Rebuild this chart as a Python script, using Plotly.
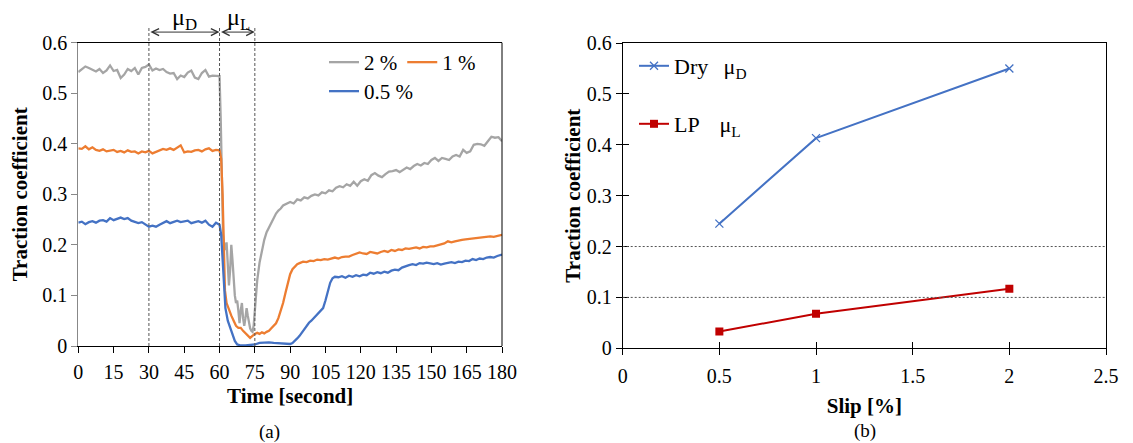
import plotly.graph_objects as go

# ---------------- data: (a) traction coefficient vs time ----------------
t_2 = [0, 1.5, 3, 4.5, 6, 7.5, 9, 10.5, 12, 13.5, 15, 16.5, 18, 19.5, 21, 22.5, 24, 25.5, 27, 28.5,
       30, 31.5, 33, 34.5, 36, 37.5, 39, 40.5, 42, 43.5, 45, 46.5, 48, 49.5, 51, 52.5, 54, 55.5, 57, 58.5,
       60, 60.5, 61, 61.5, 62, 62.5, 63, 63.5, 64, 64.5, 65, 65.5, 66, 66.5, 67, 67.5, 68, 68.5, 69, 69.5,
       70, 70.5, 71, 71.5, 72, 72.5, 73, 73.5, 74, 74.5, 75, 75.5, 76, 77, 78, 79, 80, 81, 82, 83,
       84, 85, 86, 87, 88, 89, 90, 91.5, 93, 94.5, 96, 97.5, 99, 100.5, 102, 103.5, 105, 106.5, 108, 109.5,
       111, 112.5, 114, 115.5, 117, 118.5, 120, 121.5, 123, 124.5, 126, 127.5, 129, 130.5, 132, 133.5, 135, 136.5,
       138, 139.5, 141, 142.5, 144, 145.5, 147, 148.5, 150, 151.5, 153, 154.5, 156, 157.5, 159, 160.5, 162, 163.5,
       165, 166.5, 168, 169.5, 171, 172.5, 174, 175.5, 177, 178.5, 180]
v_2 = [0.542, 0.548, 0.553, 0.550, 0.546, 0.543, 0.548, 0.540, 0.545, 0.555, 0.544, 0.546, 0.530, 0.537, 0.548, 0.544, 0.550, 0.537, 0.550, 0.552,
       0.557, 0.545, 0.549, 0.546, 0.548, 0.542, 0.539, 0.540, 0.528, 0.535, 0.532, 0.541, 0.545, 0.531, 0.528, 0.540, 0.546, 0.533, 0.535, 0.534,
       0.534, 0.450, 0.300, 0.220, 0.200, 0.190, 0.205, 0.160, 0.120, 0.150, 0.200, 0.170, 0.120, 0.100, 0.085, 0.090, 0.070, 0.045, 0.070, 0.085,
       0.055, 0.040, 0.055, 0.075, 0.060, 0.045, 0.035, 0.030, 0.028, 0.040, 0.070, 0.100, 0.130, 0.165, 0.190, 0.210, 0.225, 0.235, 0.245, 0.255,
       0.262, 0.268, 0.272, 0.278, 0.280, 0.283, 0.285, 0.282, 0.290, 0.288, 0.294, 0.292, 0.297, 0.300, 0.298, 0.304, 0.302, 0.308, 0.306, 0.313,
       0.316, 0.314, 0.320, 0.317, 0.325, 0.317, 0.326, 0.330, 0.327, 0.338, 0.342, 0.337, 0.334, 0.340, 0.345, 0.346, 0.348, 0.344,
       0.348, 0.353, 0.350, 0.356, 0.360, 0.357, 0.362, 0.360, 0.368, 0.372, 0.366, 0.372, 0.370, 0.368, 0.375, 0.378, 0.375, 0.388,
       0.382, 0.385, 0.398, 0.400, 0.399, 0.396, 0.405, 0.414, 0.412, 0.413, 0.405]

t_1 = [0, 1.5, 3, 4.5, 6, 7.5, 9, 10.5, 12, 13.5, 15, 16.5, 18, 19.5, 21, 22.5, 24, 25.5, 27, 28.5,
       30, 31.5, 33, 34.5, 36, 37.5, 39, 40.5, 42, 43.5, 45, 46.5, 48, 49.5, 51, 52.5, 54, 55.5, 57, 58.5,
       60, 60.7, 61.3, 61.8, 62.3, 63, 64, 65, 66, 67, 68, 69, 70, 71, 72, 73, 74, 75, 76, 77,
       78, 79, 80, 81, 82, 83, 84, 85, 86, 87, 88, 89, 90, 91, 92, 93, 94, 95.5, 97, 98.5,
       100, 101.5, 103, 104.5, 106, 107.5, 109, 110.5, 112, 113.5, 115, 116.5, 118, 119.5, 121, 122.5, 124, 125.5, 127, 128.5,
       130, 131.5, 133, 134.5, 136, 137.5, 139, 140.5, 142, 143.5, 145, 146.5, 148, 149.5, 151, 152.5, 154, 155.5, 157, 158.5,
       160, 161.5, 163, 164.5, 166, 167.5, 169, 170.5, 172, 173.5, 175, 176.5, 178, 180]
v_1 = [0.391, 0.390, 0.395, 0.389, 0.393, 0.388, 0.386, 0.389, 0.385, 0.387, 0.388, 0.384, 0.386, 0.383, 0.387, 0.384, 0.385, 0.381, 0.385, 0.383,
       0.386, 0.381, 0.384, 0.386, 0.390, 0.388, 0.391, 0.388, 0.393, 0.397, 0.383, 0.385, 0.384, 0.387, 0.388, 0.385, 0.389, 0.391, 0.386, 0.388,
       0.387, 0.370, 0.300, 0.200, 0.110, 0.085, 0.070, 0.060, 0.050, 0.040, 0.036, 0.036, 0.030, 0.025, 0.020, 0.016, 0.020, 0.024, 0.026, 0.024,
       0.027, 0.025, 0.028, 0.030, 0.035, 0.040, 0.045, 0.055, 0.068, 0.085, 0.105, 0.125, 0.142, 0.152, 0.158, 0.162, 0.164, 0.167, 0.166, 0.169,
       0.168, 0.171, 0.170, 0.172, 0.171, 0.173, 0.175, 0.173, 0.176, 0.177, 0.177, 0.180, 0.182, 0.185, 0.183, 0.182, 0.186, 0.184, 0.183, 0.186,
       0.188, 0.186, 0.190, 0.188, 0.191, 0.190, 0.193, 0.192, 0.194, 0.195, 0.193, 0.196, 0.195, 0.197, 0.197, 0.199, 0.201, 0.203, 0.207, 0.205,
       0.207, 0.209, 0.210, 0.211, 0.212, 0.213, 0.214, 0.214, 0.215, 0.216, 0.217, 0.216, 0.218, 0.220]

t_05 = [0, 1.5, 3, 4.5, 6, 7.5, 9, 10.5, 12, 13.5, 15, 16.5, 18, 19.5, 21, 22.5, 24, 25.5, 27, 28.5,
        30, 31.5, 33, 34.5, 36, 37.5, 39, 40.5, 42, 43.5, 45, 46.5, 48, 49.5, 51, 52.5, 54, 55.5, 57, 58.5,
        60, 60.7, 61.3, 61.8, 62.5, 63.5, 64.5, 65.5, 66.5, 67.5, 69, 71, 73, 75, 77, 79, 81, 83, 85, 87,
        89, 90, 91, 92, 93, 94, 95, 96, 97, 98, 99, 100, 101, 102, 103, 104, 105, 106, 107, 108,
        109, 110.5, 112, 113.5, 115, 116.5, 118, 119.5, 121, 122.5, 124, 125.5, 127, 128.5, 130, 131.5, 133, 134.5, 136, 137.5,
        139, 140.5, 142, 143.5, 145, 146.5, 148, 149.5, 151, 152.5, 154, 155.5, 157, 158.5, 160, 161.5, 163, 164.5, 166, 167.5,
        169, 170.5, 172, 173.5, 175, 176.5, 178, 180]
v_05 = [0.244, 0.246, 0.241, 0.245, 0.247, 0.244, 0.248, 0.249, 0.246, 0.253, 0.249, 0.252, 0.254, 0.251, 0.253, 0.248, 0.246, 0.243, 0.245, 0.240,
        0.236, 0.238, 0.236, 0.240, 0.244, 0.247, 0.243, 0.246, 0.248, 0.245, 0.246, 0.248, 0.243, 0.245, 0.247, 0.244, 0.248, 0.240, 0.236, 0.244,
        0.240, 0.220, 0.170, 0.110, 0.075, 0.050, 0.035, 0.022, 0.010, 0.003, 0.001, 0.001, 0.002, 0.003, 0.006, 0.007, 0.007, 0.006, 0.005, 0.005,
        0.004, 0.004, 0.006, 0.010, 0.015, 0.020, 0.027, 0.034, 0.040, 0.046, 0.050, 0.055, 0.060, 0.064, 0.069, 0.075, 0.090, 0.108, 0.125, 0.134,
        0.137, 0.136, 0.138, 0.135, 0.139, 0.137, 0.140, 0.138, 0.141, 0.140, 0.145, 0.143, 0.146, 0.144, 0.147, 0.145, 0.149, 0.151, 0.150, 0.155,
        0.158, 0.160, 0.162, 0.160, 0.164, 0.163, 0.165, 0.163, 0.162, 0.164, 0.161, 0.163, 0.165, 0.166, 0.164, 0.167, 0.166, 0.169, 0.168, 0.172,
        0.170, 0.173, 0.172, 0.175, 0.176, 0.175, 0.178, 0.181]

# markers of the phases (seconds)
phase_times = [30, 60, 75]

# ---------------- data: (b) traction coefficient vs slip ----------------
slip = [0.5, 1, 2]
mu_dry = [0.245, 0.413, 0.550]
mu_lp = [0.033, 0.068, 0.117]
ref_levels = [0.1, 0.2]

x_ticks_a = list(range(0, 181, 15))

FONT = "Liberation Serif"
GRAY, ORANGE, BLUE, RED = "#A5A5A5", "#ED7D31", "#4472C4", "#C00000"
W, H = 1133, 443

fig = go.Figure()

fig.add_trace(go.Scatter(x=t_2, y=v_2, mode="lines", name="2 %", line=dict(color=GRAY, width=2.3),
                         xaxis="x", yaxis="y", legend="legend"))
fig.add_trace(go.Scatter(x=t_1, y=v_1, mode="lines", name="1 %", line=dict(color=ORANGE, width=2.3),
                         xaxis="x", yaxis="y", legend="legend"))
fig.add_trace(go.Scatter(x=t_05, y=v_05, mode="lines", name="0.5 %", line=dict(color=BLUE, width=2.3),
                         xaxis="x", yaxis="y", legend="legend3"))

fig.add_trace(go.Scatter(x=slip, y=mu_dry, mode="lines+markers",
                         name="Dry\u2002\u2009μ<sub>D</sub>",
                         line=dict(color=BLUE, width=2),
                         marker=dict(symbol="x-thin", size=8, line=dict(color=BLUE, width=1.3)),
                         xaxis="x2", yaxis="y2", legend="legend2"))
fig.add_trace(go.Scatter(x=slip, y=mu_lp, mode="lines+markers",
                         name="LP\u2002\u2009\u2009μ<sub>L</sub>",
                         line=dict(color=RED, width=2),
                         marker=dict(symbol="square", size=8, color=RED),
                         xaxis="x2", yaxis="y2", legend="legend4"))
# empty trace so the overlay axes (inner tick halves of panel b) are drawn
fig.add_trace(go.Scatter(x=[], y=[], mode="lines", showlegend=False, hoverinfo="skip",
                         xaxis="x3", yaxis="y3"))

shapes = []
# dashed phase markers (extend above the plot)
for tv in phase_times:
    shapes.append(dict(type="line", xref="x", yref="y domain", x0=tv, x1=tv, y0=0, y1=1.05,
                       line=dict(color="#555555", width=1, dash="3px,2px")))
# right border of (a)
shapes.append(dict(type="line", xref="x domain", yref="y domain", x0=1, x1=1, y0=0, y1=1,
                   line=dict(color="black", width=1)))
# reference levels in (b)
for lv in ref_levels:
    shapes.append(dict(type="line", xref="x2 domain", yref="y2", x0=0, x1=1, y0=lv, y1=lv,
                       line=dict(color="#555555", width=1, dash="2px,2px")))

arrow_common = dict(xref="x", yref="y domain", axref="x", ayref="y domain", text="",
                    showarrow=True, arrowside="end+start", arrowhead=5, startarrowhead=5,
                    arrowsize=1.4, startarrowsize=1.4, arrowwidth=1, arrowcolor="#333333",
                    standoff=0, startstandoff=0)
annotations = [
    dict(x=phase_times[1], y=1.035, ax=phase_times[0], ay=1.035, **arrow_common),
    dict(x=phase_times[2], y=1.035, ax=phase_times[1], ay=1.035, **arrow_common),
    dict(xref="x", yref="y domain", x=(phase_times[0] + phase_times[1]) / 2, y=1.078, yanchor="middle",
         text="μ<sub>D</sub>", showarrow=False, font=dict(family=FONT, size=24, color="black")),
    dict(xref="x", yref="y domain", x=(phase_times[1] + phase_times[2]) / 2 + 0.5, y=1.078, yanchor="middle",
         text="μ<sub>L</sub>", showarrow=False, font=dict(family=FONT, size=24, color="black")),
    dict(xref="x domain", yref="paper", x=0.452, y=1 - 432 / H, yanchor="middle", text="(a)",
         showarrow=False, font=dict(family=FONT, size=19, color="black")),
    dict(xref="x2 domain", yref="paper", x=0.501, y=1 - 431 / H, yanchor="middle", text="(b)",
         showarrow=False, font=dict(family=FONT, size=19, color="black")),
]

tick_font = dict(family=FONT, size=20, color="black")
title_font = dict(family=FONT, size=21, color="black")
leg_font = dict(family=FONT, size=21, color="black")

fig.update_layout(
    width=W, height=H, autosize=False,
    margin=dict(l=0, r=0, t=0, b=0, pad=0, autoexpand=False),
    paper_bgcolor="white", plot_bgcolor="white",
    font=dict(family=FONT, size=20, color="black"),
    showlegend=True,
    xaxis=dict(domain=[78.3 / W, 502 / W], range=[0, 180], tickvals=x_ticks_a,
               ticks="outside", ticklen=6, tickcolor="black", showline=True, linecolor="black",
               linewidth=1, mirror=True, showgrid=False, zeroline=False, tickfont=tick_font,
               ticklabelstandoff=2, automargin=False,
               title=dict(text="<b>Time [second]</b>", font=title_font, standoff=6), anchor="y"),
    yaxis=dict(domain=[1 - 346 / H, 1 - 42.7 / H], range=[0, 0.6], dtick=0.1,
               ticks="outside", ticklen=6, tickcolor="#888888", showline=True, linecolor="#888888",
               linewidth=1.2, showgrid=False, zeroline=False, tickfont=tick_font, automargin=False,
               title=dict(text="<b>Traction coefficient</b>", font=title_font, standoff=8), anchor="x"),
    xaxis2=dict(domain=[622.7 / W, 1106 / W], range=[0, 2.5], dtick=0.5,
                ticks="outside", ticklen=6, tickcolor="black", showline=True, linecolor="black",
                linewidth=1, mirror=True, showgrid=False, zeroline=False, tickfont=tick_font,
                ticklabelstandoff=4, automargin=False,
                title=dict(text="<b>Slip [%]</b>", font=title_font, standoff=12), anchor="y2"),
    yaxis2=dict(domain=[1 - 348.3 / H, 1 - 43 / H], range=[0, 0.6], dtick=0.1,
                ticks="outside", ticklen=6, tickcolor="black", showline=True, linecolor="black",
                linewidth=1, mirror=True, showgrid=False, zeroline=False, tickfont=tick_font,
                automargin=False,
                title=dict(text="<b>Traction coefficient</b>", font=title_font, standoff=0), anchor="x2"),
    # inner halves of the crossing ticks of panel (b)
    xaxis3=dict(overlaying="x2", anchor="y2", range=[0, 2.5], dtick=0.5, ticks="inside", ticklen=6,
                tickcolor="black", showticklabels=False, showline=False, showgrid=False,
                zeroline=False, automargin=False),
    yaxis3=dict(overlaying="y2", anchor="x2", range=[0, 0.6], dtick=0.1, ticks="inside", ticklen=6,
                tickcolor="black", showticklabels=False, showline=False, showgrid=False,
                zeroline=False, automargin=False),
    legend=dict(orientation="h", x=324 / W, y=1 - 42 / H, xanchor="left", yanchor="top",
                bgcolor="rgba(0,0,0,0)", font=leg_font, itemwidth=30, traceorder="normal"),
    legend3=dict(orientation="h", x=324 / W, y=1 - 71 / H, xanchor="left", yanchor="top",
                 bgcolor="rgba(0,0,0,0)", font=leg_font, itemwidth=30),
    legend2=dict(orientation="h", x=634 / W, y=1 - 45 / H, xanchor="left", yanchor="top",
                 bgcolor="rgba(0,0,0,0)", font=dict(family=FONT, size=22, color="black"), itemwidth=30),
    legend4=dict(orientation="h", x=634 / W, y=1 - 103 / H, xanchor="left", yanchor="top",
                 bgcolor="rgba(0,0,0,0)", font=dict(family=FONT, size=22, color="black"), itemwidth=30),
    shapes=shapes,
    annotations=annotations,
)

fig.write_html("out.html")
